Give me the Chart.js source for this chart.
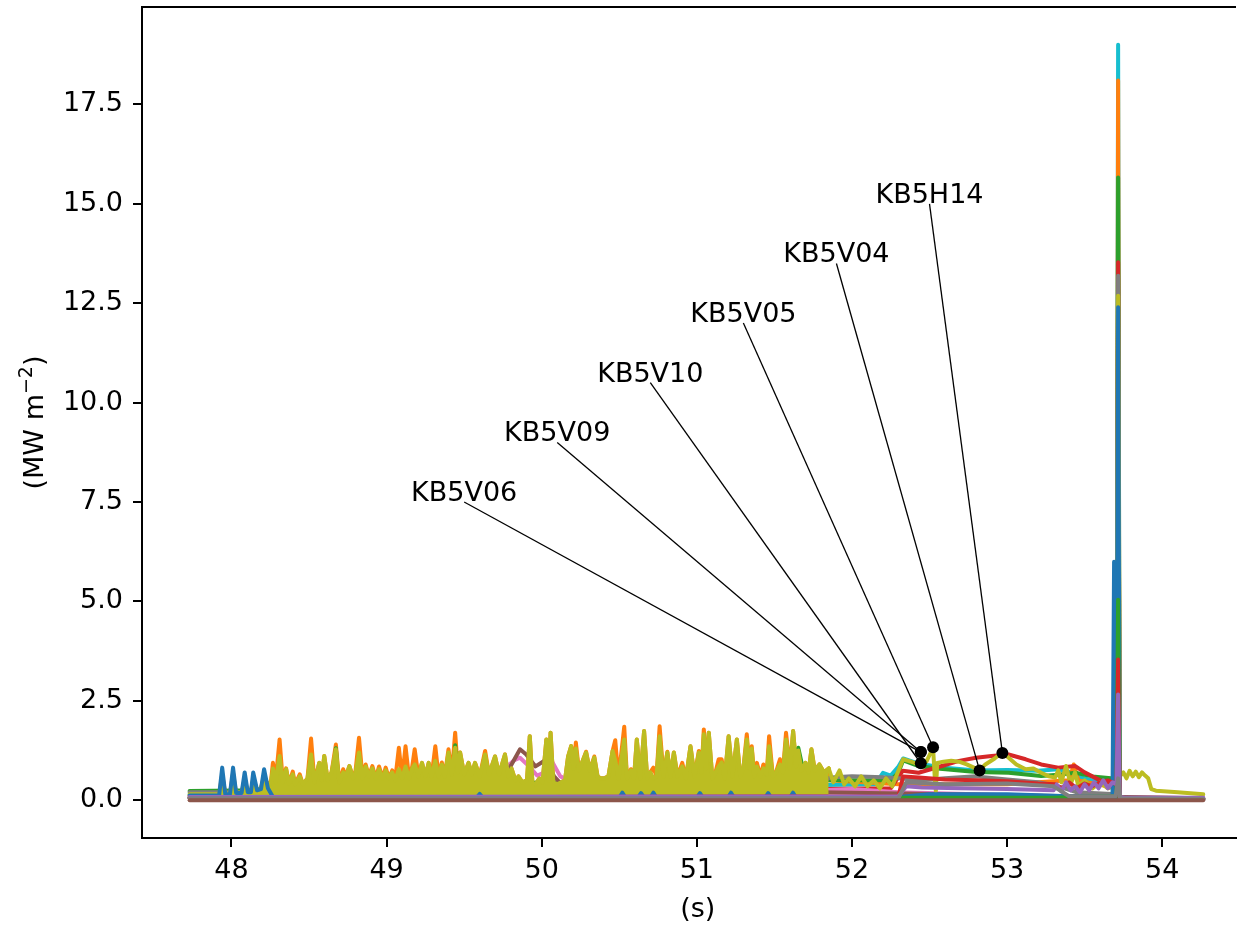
<!DOCTYPE html>
<html>
<head>
<meta charset="utf-8">
<title>KB5 bolometer channels</title>
<script src="https://cdn.jsdelivr.net/npm/chart.js"></script>
<style>
  html, body { margin: 0; padding: 0; background: #fff; overflow: hidden; }
  #wrap { width: 1242px; height: 925px; }
</style>
</head>
<body>
<div id="wrap"><canvas id="chart" width="1242" height="925"></canvas></div>
<script>
// --------------------------------------------------------
// Data
// --------------------------------------------------------

// spiky part, shared by olive and orange channels
const T_SPIKY = [
  47.73, 47.92, 47.94, 47.96, 47.99, 48.01, 48.03, 48.065, 48.085, 48.105,
  48.125, 48.14, 48.165, 48.19, 48.21, 48.235, 48.255, 48.267, 48.285, 48.31,
  48.33, 48.352, 48.37, 48.395, 48.41, 48.44, 48.46, 48.49, 48.513, 48.535,
  48.566, 48.58, 48.598, 48.62, 48.645, 48.673, 48.695, 48.72, 48.737, 48.76,
  48.785, 48.80, 48.822, 48.845, 48.865, 48.885, 48.908, 48.93, 48.951, 48.975,
  48.994, 49.015, 49.036, 49.055, 49.079, 49.10, 49.122, 49.145, 49.165, 49.181,
  49.205, 49.228, 49.25, 49.271, 49.29, 49.314, 49.335, 49.356, 49.375, 49.399,
  49.42, 49.442, 49.46, 49.474, 49.50, 49.528, 49.55, 49.57, 49.60, 49.635,
  49.66, 49.699, 49.725, 49.763, 49.785, 49.805, 49.83, 49.85, 49.875, 49.905,
  49.923, 49.94, 49.96, 49.985, 50.005, 50.03, 50.045, 50.057, 50.075, 50.10,
  50.125, 50.15, 50.17, 50.19, 50.205, 50.22, 50.24, 50.265, 50.286, 50.31,
  50.339, 50.36, 50.38, 50.404, 50.43, 50.457, 50.474, 50.495, 50.532, 50.55,
  50.575, 50.595, 50.613, 50.635, 50.66, 50.68, 50.70, 50.72, 50.74, 50.76,
  50.785, 50.81, 50.83, 50.852, 50.875, 50.906, 50.93, 50.959, 50.985, 51.013,
  51.03, 51.045, 51.06, 51.077, 51.10, 51.12, 51.141, 51.16, 51.18, 51.205,
  51.23, 51.258, 51.28, 51.30, 51.322, 51.34, 51.354, 51.37, 51.387, 51.41,
  51.429, 51.45, 51.466, 51.49, 51.51, 51.536, 51.555, 51.575, 51.60, 51.621,
  51.64, 51.654, 51.675, 51.70, 51.72, 51.739, 51.76, 51.79, 51.82, 51.85
];
const OLIVE_SPIKY = [
  0.15, 0.15, 0.50, 0.16, 0.16, 0.55, 0.18, 0.20, 0.45, 0.22,
  0.22, 0.45, 0.28, 0.30, 0.55, 0.35, 0.45, 0.80, 0.45, 1.11,
  0.45, 0.78, 0.42, 0.65, 0.40, 0.60, 0.40, 0.55, 1.15, 0.45,
  0.94, 0.50, 1.11, 0.50, 0.70, 1.28, 0.45, 0.70, 0.60, 0.86,
  0.55, 0.70, 1.20, 0.55, 0.85, 0.60, 0.80, 0.55, 0.78, 0.55,
  0.75, 0.55, 0.70, 0.50, 0.78, 0.55, 0.85, 0.55, 0.80, 0.90,
  0.60, 0.94, 0.60, 0.94, 0.60, 0.99, 0.60, 0.90, 0.60, 1.20,
  0.65, 1.32, 0.70, 1.20, 0.65, 0.94, 0.65, 0.94, 0.60, 1.15,
  0.65, 1.10, 0.65, 1.15, 0.60, 0.80, 0.50, 0.60, 0.45, 0.50,
  1.61, 0.45, 0.40, 0.55, 0.45, 1.53, 0.50, 1.70, 0.45, 0.40,
  0.45, 0.50, 1.10, 1.36, 0.80, 1.30, 0.75, 1.00, 1.20, 0.75,
  1.07, 0.60, 0.55, 0.55, 0.60, 1.24, 1.00, 0.55, 1.53, 0.55,
  0.75, 0.55, 1.53, 0.55, 1.74, 0.55, 0.70, 0.55, 0.60, 1.61,
  0.60, 1.20, 0.60, 1.20, 0.60, 0.85, 0.55, 1.36, 0.60, 1.20,
  0.70, 1.66, 0.80, 1.70, 0.55, 0.70, 0.85, 0.95, 0.55, 1.61,
  0.60, 1.53, 0.60, 0.80, 1.53, 0.80, 1.30, 0.60, 0.85, 0.60,
  0.80, 0.65, 1.36, 0.60, 0.70, 0.90, 0.70, 1.53, 0.80, 1.74,
  0.85, 1.25, 0.75, 0.94, 0.70, 1.28, 0.75, 0.90, 0.70, 0.80
];
const ORANGE_SPIKY = [
  0.12, 0.12, 0.65, 0.15, 0.15, 0.68, 0.18, 0.18, 0.55, 0.20,
  0.20, 0.55, 0.25, 0.30, 0.62, 0.35, 0.50, 0.94, 0.50, 1.53,
  0.50, 0.80, 0.42, 0.72, 0.40, 0.65, 0.40, 0.55, 1.55, 0.45,
  0.94, 0.50, 1.11, 0.50, 0.70, 1.40, 0.45, 0.78, 0.60, 0.86,
  0.55, 0.75, 1.57, 0.55, 0.90, 0.60, 0.86, 0.55, 0.85, 0.55,
  0.82, 0.55, 0.75, 0.50, 1.32, 0.55, 1.36, 0.55, 0.85, 1.28,
  0.60, 0.94, 0.60, 0.94, 0.60, 1.36, 0.60, 0.95, 0.60, 1.28,
  0.65, 1.70, 0.70, 1.20, 0.65, 0.94, 0.65, 0.94, 0.60, 1.24,
  0.65, 1.10, 0.65, 1.15, 0.60, 0.80, 0.50, 0.60, 0.45, 0.50,
  1.61, 0.45, 0.40, 0.55, 0.45, 1.53, 0.50, 1.70, 0.45, 0.40,
  0.45, 0.50, 1.10, 1.36, 0.80, 1.45, 0.75, 1.00, 1.22, 0.75,
  1.10, 0.60, 0.55, 0.55, 0.60, 1.24, 1.51, 0.55, 1.85, 0.55,
  0.78, 0.55, 1.53, 0.55, 1.74, 0.55, 0.70, 0.82, 0.60, 1.86,
  0.60, 1.22, 0.60, 1.20, 0.60, 0.94, 0.55, 1.36, 0.60, 1.24,
  0.70, 1.78, 0.80, 1.70, 0.55, 0.70, 1.03, 1.03, 0.55, 1.61,
  0.60, 1.53, 0.60, 0.80, 1.66, 0.80, 1.36, 0.60, 0.94, 0.60,
  0.90, 0.65, 1.61, 0.60, 0.70, 1.03, 0.70, 1.70, 0.80, 1.74,
  0.85, 1.25, 0.75, 0.94, 0.70, 1.28, 0.75, 0.90, 0.70, 0.80
];

// olive channel after the spiky part
const T_OLIVE_LATE = [
  51.85, 51.88, 51.92, 51.95, 51.98, 52.02, 52.06, 52.10, 52.14, 52.18,
  52.22, 52.26, 52.30, 52.33, 52.38, 52.43, 52.48, 52.523, 52.535, 52.541,
  52.55, 52.59, 52.64, 52.69, 52.74, 52.797, 52.823, 52.86, 52.92, 52.968,
  53.01, 53.06, 53.12, 53.17, 53.22, 53.27, 53.31, 53.33, 53.35, 53.38,
  53.41, 53.438, 53.46, 53.50, 53.55, 53.60, 53.65, 53.68, 53.706, 53.716,
  53.726, 53.75, 53.77, 53.79, 53.81, 53.83, 53.85, 53.87, 53.89, 53.91,
  53.93, 53.96, 54.10, 54.265
];
const OLIVE_LATE = [
  0.80, 0.45, 0.75, 0.40, 0.55, 0.35, 0.60, 0.35, 0.50, 0.30,
  0.55, 0.35, 0.75, 1.03, 0.97, 0.90, 0.97, 1.32, 0.50, 0.23,
  0.94, 0.97, 0.99, 0.97, 0.90, 0.80, 0.75, 0.90, 1.05, 1.20,
  1.07, 0.90, 0.78, 0.80, 0.69, 0.60, 0.57, 0.75, 0.45, 0.86,
  0.40, 0.70, 0.35, 0.50, 0.30, 0.45, 0.30, 0.35, 0.30, 12.69,
  0.60, 0.70, 0.55, 0.74, 0.60, 0.72, 0.58, 0.70, 0.62, 0.55,
  0.28, 0.24, 0.20, 0.15
];

const T_ORANGE_LATE = [51.85, 52.30, 53.00, 53.40, 53.43, 53.46, 53.706, 53.716, 53.726, 54.265];
const ORANGE_LATE   = [0.50, 0.40, 0.40, 0.50, 0.90, 0.50, 0.30, 18.10, 0.05, 0.03];

const T_BLUE = [
  47.73, 47.92, 47.94, 47.96, 47.99, 48.01, 48.03, 48.065, 48.085, 48.105,
  48.125, 48.14, 48.165, 48.19, 48.21, 48.235, 48.27, 49.58, 49.60, 49.62,
  50.50, 50.52, 50.54, 50.62, 50.64, 50.66, 50.70, 50.72, 50.74, 51.00,
  51.02, 51.04, 51.20, 51.22, 51.24, 51.44, 51.46, 51.48, 51.60, 51.62,
  51.64, 52.30, 52.50, 53.00, 53.40, 53.706, 53.716, 53.726, 54.265
];
const BLUE = [
  0.12, 0.12, 0.82, 0.15, 0.15, 0.82, 0.18, 0.18, 0.70, 0.20,
  0.20, 0.70, 0.25, 0.28, 0.78, 0.30, 0.06, 0.06, 0.16, 0.06,
  0.06, 0.19, 0.06, 0.06, 0.18, 0.06, 0.06, 0.19, 0.06, 0.06,
  0.18, 0.06, 0.06, 0.19, 0.06, 0.06, 0.18, 0.06, 0.06, 0.19,
  0.06, 0.08, 0.15, 0.15, 0.10, 0.10, 12.40, 0.05, 0.03
];

const T_BLUE_2 = [47.73, 53.60, 53.680, 53.690, 53.700, 54.265];
const BLUE_2   = [0.06, 0.06, 0.10, 6.00, 0.05, 0.03];

const T_CYAN = [
  47.73, 52.15, 52.20, 52.25, 52.30, 52.33, 52.43, 52.60, 52.80, 53.00,
  53.20, 53.33, 53.40, 53.45, 53.55, 53.65, 53.706, 53.716, 53.726, 54.265
];
const CYAN = [
  0.15, 0.40, 0.69, 0.62, 0.85, 1.05, 0.92, 0.82, 0.75, 0.76,
  0.74, 0.78, 0.72, 0.60, 0.50, 0.45, 0.40, 19.00, 0.05, 0.03
];

const T_GREEN = [
  47.73, 48.20, 48.30, 48.66, 48.673, 48.69, 49.43, 49.442, 49.455, 51.60,
  51.654, 51.70, 52.25, 52.30, 52.33, 52.43, 52.55, 52.80, 53.01, 53.22,
  53.33, 53.44, 53.55, 53.67, 53.706, 53.716, 53.726, 54.265
];
const GREEN = [
  0.23, 0.25, 0.30, 0.40, 1.31, 0.40, 0.45, 1.38, 0.45, 0.40,
  1.32, 0.50, 0.50, 0.70, 1.00, 0.86, 0.80, 0.71, 0.69, 0.61,
  0.64, 0.69, 0.60, 0.55, 0.50, 15.66, 0.05, 0.03
];

const T_GREEN_2 = [47.73, 53.30, 53.60, 53.706, 53.716, 53.726, 54.265];
const GREEN_2   = [0.06, 0.06, 0.10, 0.10, 5.04, 0.05, 0.03];

const T_RED = [
  47.73, 52.25, 52.327, 52.43, 52.58, 52.69, 52.80, 52.90, 53.01, 53.12,
  53.22, 53.33, 53.44, 53.50, 53.60, 53.706, 53.716, 53.726, 54.265
];
const RED = [
  0.10, 0.30, 0.74, 0.69, 0.86, 0.99, 1.07, 1.11, 1.15, 1.03,
  0.90, 0.82, 0.86, 0.70, 0.50, 0.40, 13.53, 0.05, 0.03
];

const T_RED_2 = [
  47.73, 52.30, 52.33, 52.43, 52.60, 52.80, 53.00, 53.20, 53.31, 53.35,
  53.40, 53.45, 53.50, 53.55, 53.60, 53.65, 53.706, 53.716, 53.726, 54.265
];
const RED_2 = [
  0.06, 0.10, 0.60, 0.57, 0.52, 0.50, 0.48, 0.42, 0.40, 0.30,
  0.45, 0.30, 0.42, 0.35, 0.45, 0.50, 0.40, 3.54, 0.05, 0.03
];

const T_GRAY = [
  47.73, 48.25, 48.30, 51.80, 51.86, 52.00, 52.20, 52.30, 52.45, 52.60,
  52.80, 53.00, 53.20, 53.33, 53.45, 53.706, 53.716, 53.726, 54.265
];
const GRAY = [
  0.20, 0.20, 0.35, 0.45, 0.57, 0.60, 0.58, 0.55, 0.50, 0.55,
  0.60, 0.52, 0.45, 0.35, 0.20, 0.15, 13.19, 0.05, 0.03
];

const T_GRAY_2 = [47.73, 52.30, 52.35, 52.60, 53.00, 53.30, 53.40, 53.70, 53.716, 53.73, 54.265];
const GRAY_2   = [0.05, 0.05, 0.45, 0.40, 0.42, 0.35, 0.10, 0.10, 0.55, 0.05, 0.03];

const T_PURPLE = [
  47.73, 52.30, 52.35, 52.45, 52.70, 53.00, 53.30, 53.32, 53.35, 53.38,
  53.41, 53.44, 53.47, 53.50, 53.53, 53.56, 53.59, 53.62, 53.65, 53.68,
  53.706, 53.716, 53.726, 53.76, 54.265
];
const PURPLE = [
  0.08, 0.10, 0.35, 0.32, 0.30, 0.28, 0.25, 0.40, 0.22, 0.45,
  0.25, 0.35, 0.20, 0.40, 0.25, 0.45, 0.30, 0.50, 0.30, 0.45,
  0.40, 2.66, 0.08, 0.06, 0.06
];

const T_PINK = [
  47.73, 49.60, 49.75, 49.82, 49.86, 49.92, 49.97, 50.02, 50.07, 50.12,
  50.20, 50.40, 50.60, 51.80, 52.00, 52.30, 53.30, 54.265
];
const PINK = [
  0.05, 0.30, 0.75, 1.00, 1.07, 0.85, 0.62, 0.70, 0.95, 0.60,
  0.45, 0.55, 0.35, 0.25, 0.28, 0.20, 0.10, 0.05
];

const T_BROWN_2 = [47.73, 49.70, 49.80, 49.86, 49.90, 49.96, 50.02, 50.08, 50.15, 51.80, 54.265];
const BROWN_2   = [0.05, 0.30, 0.86, 1.28, 1.15, 0.85, 1.00, 0.60, 0.30, 0.20, 0.05];

const T_BROWN = [47.73, 54.265];
const BROWN   = [0.00, 0.00];

// annotations: label anchor and marked point
const LABELS  = ['KB5H14', 'KB5V04', 'KB5V05', 'KB5V10', 'KB5V09', 'KB5V06'];
const LABEL_T = [52.50, 51.90, 51.30, 50.70, 50.10, 49.50];
const LABEL_Y = [15.0, 13.5, 12.0, 10.5, 9.0, 7.5];
const DOT_T   = [52.970, 52.823, 52.523, 52.444, 52.444, 52.444];
const DOT_Y   = [1.19, 0.75, 1.33, 0.93, 1.21, 1.21];

const X_TICKS = [48, 49, 50, 51, 52, 53, 54];
const Y_TICKS = [0, 2.5, 5, 7.5, 10, 12.5, 15, 17.5];

// --------------------------------------------------------
// Chart
// --------------------------------------------------------
const FONT = 'DejaVu Sans';
const X_MIN = 47.423, X_MAX = 54.476, X_AXIS_END = 54.59;
const Y_MIN = -0.95, Y_MAX = 19.95;

const pts = (ts, ys) => ts.map((t, i) => ({ x: t, y: ys[i] }));

function series(ts, ys, color, extra) {
    return Object.assign({
        data: pts(ts, ys),
        borderColor: color,
        backgroundColor: color,
        borderWidth: 4,
        pointRadius: 0,
        tension: 0,
        borderJoinStyle: 'round',
        borderCapStyle: 'round',
        fill: false
    }, extra || {});
}

// bottom -> top
const stack = [
    series(T_CYAN, CYAN, '#17becf'),
    series(T_SPIKY.concat(T_ORANGE_LATE), ORANGE_SPIKY.concat(ORANGE_LATE), '#ff7f0e'),
    series(T_GREEN, GREEN, '#2ca02c'),
    series(T_RED, RED, '#d62728'),
    series(T_GRAY, GRAY, '#7f7f7f'),
    series(T_PINK, PINK, '#e377c2'),
    series(T_BROWN_2, BROWN_2, '#8c564b'),
    series(T_OLIVE_LATE, OLIVE_LATE, '#bcbd22'),
    series(T_SPIKY, OLIVE_SPIKY, '#bcbd22', { fill: 'origin' }),
    series(T_BLUE, BLUE, '#1f77b4'),
    series(T_BLUE_2, BLUE_2, '#1f77b4'),
    series(T_GREEN_2, GREEN_2, '#2ca02c'),
    series(T_RED_2, RED_2, '#d62728'),
    series(T_PURPLE, PURPLE, '#9467bd'),
    series(T_GRAY_2, GRAY_2, '#7f7f7f'),
    series(T_BROWN, BROWN, '#8c564b')
];
stack.forEach((ds, i) => { ds.order = -i; });

// annotation leader lines and markers on top
LABELS.forEach((name, i) => {
    stack.push({
        data: [{ x: LABEL_T[i], y: LABEL_Y[i] }, { x: DOT_T[i], y: DOT_Y[i] }],
        borderColor: '#000',
        borderWidth: 1.3,
        pointRadius: 0,
        fill: false,
        order: -100
    });
});
stack.push({
    data: pts(DOT_T, DOT_Y),
    showLine: false,
    pointRadius: 6,
    pointBackgroundColor: '#000',
    pointBorderWidth: 0,
    order: -101
});

// spine on top, annotation texts and axis titles
const frameAndText = {
    id: 'frameAndText',
    afterDatasetsDraw(chart) {
        const { ctx, chartArea, scales: { x, y } } = chart;
        ctx.save();
        ctx.strokeStyle = '#000';
        ctx.lineWidth = 2;
        ctx.beginPath();
        ctx.moveTo(chartArea.left - 1, chartArea.top);
        ctx.lineTo(chartArea.right, chartArea.top);
        ctx.stroke();

        ctx.fillStyle = '#000';
        ctx.font = '27px "' + FONT + '"';
        ctx.textAlign = 'center';
        ctx.textBaseline = 'alphabetic';
        LABELS.forEach((name, i) => {
            ctx.fillText(name, x.getPixelForValue(LABEL_T[i]), y.getPixelForValue(LABEL_Y[i]) - 1);
        });

        // x title
        const xc = (x.getPixelForValue(X_MIN) + x.getPixelForValue(X_AXIS_END)) / 2;
        ctx.fillText('(s)', xc, 917);

        // y title with superscript
        ctx.translate(33, (chartArea.top + chartArea.bottom) / 2);
        ctx.rotate(-Math.PI / 2);
        const parts = [
            ['(MW m', '27px "' + FONT + '"', 0],
            ['\u22122', '19px "' + FONT + '"', -11],
            [')', '27px "' + FONT + '"', 0]
        ];
        let total = 0;
        parts.forEach(p => { ctx.font = p[1]; total += ctx.measureText(p[0]).width; });
        let cx = -total / 2;
        ctx.textAlign = 'left';
        parts.forEach(p => {
            ctx.font = p[1];
            ctx.fillText(p[0], cx, 10 + p[2]);
            cx += ctx.measureText(p[0]).width;
        });
        ctx.restore();
    }
};

new Chart(document.getElementById('chart'), {
    type: 'line',
    data: { datasets: stack },
    options: {
        responsive: false,
        devicePixelRatio: 1,
        animation: false,
        events: [],
        layout: { padding: { top: 7, left: 0, right: 0, bottom: 0 } },
        plugins: { legend: { display: false }, tooltip: { enabled: false } },
        scales: {
            x: {
                type: 'linear',
                min: X_MIN,
                max: X_MAX,
                afterBuildTicks: (scale) => { scale.ticks = X_TICKS.map(v => ({ value: v })); },
                afterFit: (scale) => { scale.height = 87; scale.paddingLeft = 0; scale.paddingRight = 0; },
                border: { display: true, color: '#000', width: 2 },
                grid: { drawOnChartArea: false, drawTicks: true, tickLength: 9, tickWidth: 2, tickColor: '#000', lineWidth: 2 },
                ticks: {
                    autoSkip: false, maxRotation: 0, padding: 8, color: '#000',
                    font: { family: FONT, size: 27 },
                    callback: (v) => String(v)
                }
            },
            y: {
                type: 'linear',
                min: Y_MIN,
                max: Y_MAX,
                afterBuildTicks: (scale) => { scale.ticks = Y_TICKS.map(v => ({ value: v })); },
                afterFit: (scale) => { scale.width = 142; scale.paddingTop = 0; scale.paddingBottom = 0; },
                border: { display: true, color: '#000', width: 2 },
                grid: { drawOnChartArea: false, drawTicks: true, tickLength: 9, tickWidth: 2, tickColor: '#000', lineWidth: 2 },
                ticks: {
                    autoSkip: false, padding: 10, color: '#000',
                    font: { family: FONT, size: 27 },
                    callback: (v) => Number(v).toFixed(1)
                }
            }
        }
    },
    plugins: [frameAndText]
});
</script>
</body>
</html>
